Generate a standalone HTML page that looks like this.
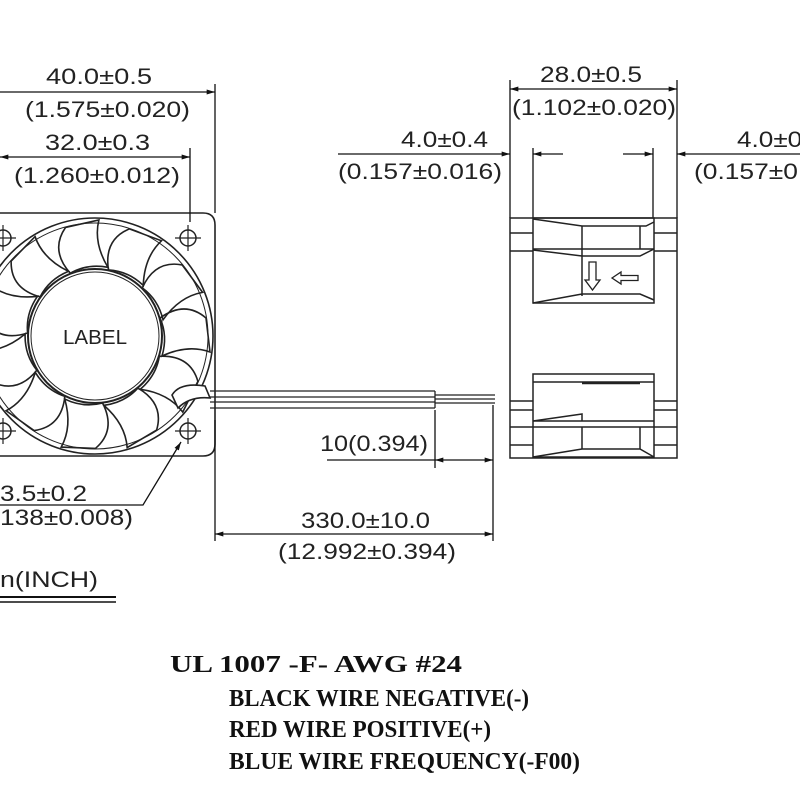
<!DOCTYPE html>
<html><head><meta charset="utf-8"><style>
html,body{margin:0;padding:0;background:#fff;}
svg{display:block;}
.d{font-family:"Liberation Sans",sans-serif;font-size:22px;fill:#222;}
.s{font-family:"Liberation Serif",serif;font-weight:bold;font-size:24px;fill:#111;}
</style></head><body>
<svg width="800" height="800" viewBox="0 0 800 800" xmlns="http://www.w3.org/2000/svg">
<defs>
<marker id="a" viewBox="0 0 10 6" refX="10" refY="3" markerWidth="14" markerHeight="5" markerUnits="userSpaceOnUse" orient="auto-start-reverse"><path d="M0,0 L10,3 L0,6 Z" fill="#111"/></marker>
<path id="blade" d="M160,318 Q185,300 206,318 L210,352 Q188,344 162,356 Q168,336 160,318 Z" fill="none" stroke="#222" stroke-width="1.6"/>
<g id="hole"><circle r="8" fill="none" stroke="#222" stroke-width="1.5"/><line x1="-13" y1="0" x2="13" y2="0" stroke="#222" stroke-width="1.2"/><line x1="0" y1="-13" x2="0" y2="13" stroke="#222" stroke-width="1.2"/></g>
<clipPath id="fc"><rect x="-10" y="213" width="224" height="243"/></clipPath>
</defs>
<g stroke="#222" stroke-width="1.6" fill="none">
<path d="M-5,213 H203 Q215,213 215,225 V444 Q215,456 203,456 H-5"/>
<g clip-path="url(#fc)">
<circle cx="95" cy="336" r="118"/>
<circle cx="95" cy="336" r="113" stroke-width="1"/>
<use href="#blade" transform="rotate(0 95 336)"/>
<use href="#blade" transform="rotate(33 95 336)"/>
<use href="#blade" transform="rotate(66 95 336)"/>
<use href="#blade" transform="rotate(99 95 336)"/>
<use href="#blade" transform="rotate(132 95 336)"/>
<use href="#blade" transform="rotate(165 95 336)"/>
<use href="#blade" transform="rotate(198 95 336)"/>
<use href="#blade" transform="rotate(231 95 336)"/>
<use href="#blade" transform="rotate(264 95 336)"/>
<use href="#blade" transform="rotate(297 95 336)"/>
<use href="#blade" transform="rotate(330 95 336)"/>
</g>
<circle cx="95" cy="336" r="67" fill="#fff" stroke-width="2"/>
<circle cx="95" cy="336" r="64" stroke-width="1"/>
<use href="#hole" x="188" y="238"/><use href="#hole" x="188" y="431"/>
<use href="#hole" x="3" y="238"/><use href="#hole" x="3" y="431"/>
<path d="M172,395 Q180,382 205,386 L210,398 Q190,396 178,408 Z" fill="#fff"/>
<line x1="210" y1="391" x2="435" y2="391" stroke-width="1.3"/>
<line x1="210" y1="397" x2="435" y2="397" stroke-width="1.3"/>
<line x1="210" y1="402" x2="435" y2="402" stroke-width="1.3"/>
<line x1="210" y1="408" x2="435" y2="408" stroke-width="1.3"/>
<line x1="435" y1="391" x2="435" y2="408" stroke-width="1.3"/>
<line x1="435" y1="395" x2="495" y2="395" stroke-width="1.3"/>
<line x1="435" y1="399" x2="495" y2="399" stroke-width="1.3"/>
<line x1="435" y1="403" x2="495" y2="403" stroke-width="1.3"/>
</g>
<g stroke="#111" stroke-width="1.3" fill="none">
<line x1="0" y1="92" x2="215" y2="92" marker-end="url(#a)"/>
<line x1="215" y1="84" x2="215" y2="213"/>
<line x1="0" y1="157" x2="190" y2="157" marker-start="url(#a)" marker-end="url(#a)"/>
<line x1="190" y1="148" x2="190" y2="222"/>
<line x1="215" y1="420" x2="215" y2="541"/>
<line x1="493" y1="405" x2="493" y2="541"/>
<line x1="215" y1="534" x2="493" y2="534" marker-start="url(#a)" marker-end="url(#a)"/>
<line x1="435" y1="410" x2="435" y2="468"/>
<line x1="327" y1="460" x2="435" y2="460"/>
<line x1="435" y1="460" x2="493" y2="460" marker-start="url(#a)" marker-end="url(#a)"/>
<polyline points="181,442 143,505 0,505" marker-start="url(#a)"/>
<line x1="0" y1="597" x2="116" y2="597" stroke-width="2"/>
<line x1="0" y1="602" x2="116" y2="602" stroke-width="1.5"/>
<line x1="510" y1="80" x2="510" y2="218"/>
<line x1="677" y1="80" x2="677" y2="218"/>
<line x1="533" y1="148" x2="533" y2="218"/>
<line x1="653" y1="148" x2="653" y2="218"/>
<line x1="510" y1="89" x2="677" y2="89" marker-start="url(#a)" marker-end="url(#a)"/>
<line x1="338" y1="154" x2="510" y2="154" marker-end="url(#a)"/>
<line x1="533" y1="154" x2="563" y2="154" marker-start="url(#a)"/>
<line x1="623" y1="154" x2="653" y2="154" marker-end="url(#a)"/>
<line x1="677" y1="154" x2="800" y2="154" marker-start="url(#a)"/>
</g>
<g stroke="#222" stroke-width="1.5" fill="none">
<rect x="510" y="218" width="167" height="240"/>
<rect x="533" y="218" width="121" height="85"/>
<rect x="533" y="374" width="121" height="83"/>
<line x1="510" y1="233" x2="533" y2="233"/><line x1="654" y1="233" x2="677" y2="233"/>
<line x1="510" y1="251" x2="533" y2="251"/><line x1="654" y1="251" x2="677" y2="251"/>
<polyline points="533,219 582,226 646,226 654,222"/>
<line x1="582" y1="226" x2="582" y2="296"/>
<line x1="640" y1="226" x2="640" y2="249"/>
<line x1="533" y1="249" x2="654" y2="249"/>
<polyline points="533,250 582,256 640,256 654,249"/>
<polyline points="533,303 582,294 640,294 654,300"/>
<path d="M589,262 h7 v18 h4 l-7.5,10 l-7.5,-10 h4 Z" stroke-width="1.3"/>
<path d="M612,278 l9,-6 v3.5 h17 v5 h-17 v3.5 Z" stroke-width="1.3"/>
<line x1="533" y1="382" x2="654" y2="382"/>
<line x1="582" y1="383" x2="640" y2="383" stroke-width="2.5"/>
<line x1="510" y1="401" x2="533" y2="401"/><line x1="654" y1="401" x2="677" y2="401"/>
<line x1="510" y1="410" x2="533" y2="410"/><line x1="654" y1="410" x2="677" y2="410"/>
<polyline points="533,421 582,414 582,421"/>
<line x1="533" y1="421" x2="654" y2="421"/>
<line x1="533" y1="427" x2="654" y2="427"/>
<line x1="510" y1="427" x2="533" y2="427"/><line x1="654" y1="427" x2="677" y2="427"/>
<line x1="510" y1="445" x2="533" y2="445"/><line x1="654" y1="445" x2="677" y2="445"/>
<line x1="582" y1="427" x2="582" y2="449"/>
<line x1="640" y1="427" x2="640" y2="449"/>
<polyline points="533,457 582,449 640,449 654,457"/>
</g>
<g class="d">
<text x="46" y="84" textLength="106" lengthAdjust="spacingAndGlyphs">40.0±0.5</text>
<text x="25" y="117" textLength="165" lengthAdjust="spacingAndGlyphs">(1.575±0.020)</text>
<text x="45" y="150" textLength="105" lengthAdjust="spacingAndGlyphs">32.0±0.3</text>
<text x="14" y="183" textLength="166" lengthAdjust="spacingAndGlyphs">(1.260±0.012)</text>
<text x="63" y="344" textLength="64" lengthAdjust="spacingAndGlyphs" font-size="20">LABEL</text>
<text x="0" y="501" textLength="87" lengthAdjust="spacingAndGlyphs">3.5±0.2</text>
<text x="0" y="525" textLength="133" lengthAdjust="spacingAndGlyphs">138±0.008)</text>
<text x="0" y="587" textLength="98" lengthAdjust="spacingAndGlyphs">n(INCH)</text>
<text x="320" y="451" textLength="108" lengthAdjust="spacingAndGlyphs">10(0.394)</text>
<text x="301" y="528" textLength="129" lengthAdjust="spacingAndGlyphs">330.0±10.0</text>
<text x="278" y="559" textLength="178" lengthAdjust="spacingAndGlyphs">(12.992±0.394)</text>
<text x="540" y="82" textLength="102" lengthAdjust="spacingAndGlyphs">28.0±0.5</text>
<text x="512" y="115" textLength="164" lengthAdjust="spacingAndGlyphs">(1.102±0.020)</text>
<text x="401" y="147" textLength="87" lengthAdjust="spacingAndGlyphs">4.0±0.4</text>
<text x="338" y="179" textLength="164" lengthAdjust="spacingAndGlyphs">(0.157±0.016)</text>
<text x="737" y="147" textLength="87" lengthAdjust="spacingAndGlyphs">4.0±0.4</text>
<text x="694" y="179" textLength="164" lengthAdjust="spacingAndGlyphs">(0.157±0.016)</text>
</g>
<text class="s" x="170" y="672" textLength="292" lengthAdjust="spacingAndGlyphs">UL 1007 -F- AWG #24</text>
<text class="s" x="229" y="706" textLength="300" lengthAdjust="spacingAndGlyphs">BLACK WIRE NEGATIVE(-)</text>
<text class="s" x="229" y="737" textLength="262" lengthAdjust="spacingAndGlyphs">RED WIRE POSITIVE(+)</text>
<text class="s" x="229" y="769" textLength="351" lengthAdjust="spacingAndGlyphs">BLUE WIRE FREQUENCY(-F00)</text>
</svg>
</body></html>
